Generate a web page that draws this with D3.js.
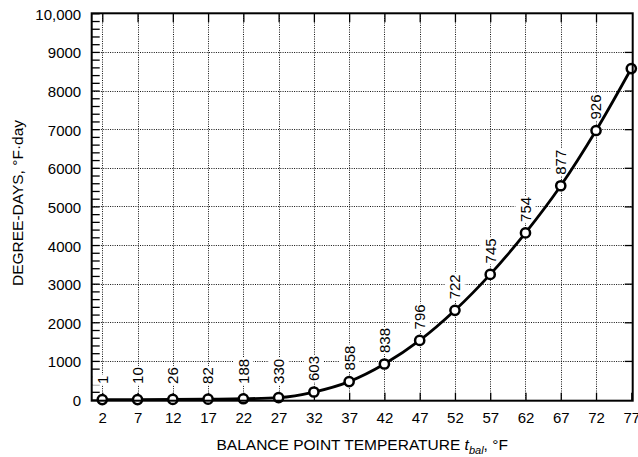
<!DOCTYPE html>
<html>
<head>
<meta charset="utf-8">
<script src="https://cdn.jsdelivr.net/npm/d3@7"></script>
<style>
  body { margin: 0; background: #fff; }
  svg text { font-family: "Liberation Sans", Arial, Helvetica, sans-serif; fill: #000; }
</style>
</head>
<body>
<svg id="chart" width="638" height="457"></svg>
<script>
// Balance point temperatures (°F)
const balanceTemps = [2, 7, 12, 17, 22, 27, 32, 37, 42, 47, 52, 57, 62, 67, 72, 77];
// Cumulative heating degree-days at each balance point (°F·day)
const degreeDays = [0, 0, 2, 10, 20, 50, 195, 465, 920, 1530, 2310, 3240, 4315, 5535, 6965, 8570];
// Hours in each 5 °F temperature bin, written beside the curve
const binHours = [1, 10, 26, 82, 188, 330, 603, 858, 838, 796, 722, 745, 754, 877, 926];
// Axis ticks
const yMajorTicks = [0, 1000, 2000, 3000, 4000, 5000, 6000, 7000, 8000, 9000, 10000];
const yTickLabels = ["0", "1000", "2000", "3000", "4000", "5000", "6000", "7000", "8000", "9000", "10,000"];
const yMinorTicks = d3.range(200, 10000, 200).filter(v => v % 1000 !== 0);
const xTicks = balanceTemps;

const svg = d3.select("#chart");
const box = { left: 91.7, right: 632.7, top: 13.3, bottom: 400.7 };

const x = d3.scaleLinear().domain([0.5, 77.2]).range([box.left, box.right]);
const y = d3.scaleLinear().domain([-30, 10000]).range([box.bottom, box.top]);

// Dotted grid
const grid = svg.append("g").attr("stroke", "#111").attr("stroke-width", 1)
  .attr("stroke-dasharray", "1,1.3");
grid.selectAll("line.h").data(yMajorTicks.filter(v => v > 0 && v < 10000)).join("line")
  .attr("class", "h")
  .attr("x1", box.left).attr("x2", box.right)
  .attr("y1", d => Math.round(y(d)) + 0.5).attr("y2", d => Math.round(y(d)) + 0.5);
grid.selectAll("line.v").data(xTicks.filter(v => v < 77)).join("line")
  .attr("class", "v")
  .attr("y1", box.top).attr("y2", box.bottom)
  .attr("x1", d => Math.round(x(d)) + 0.5).attr("x2", d => Math.round(x(d)) + 0.5);

// Inward tick marks on all four sides
function styleAxis(g) {
  g.select(".domain").remove();
  g.selectAll(".tick line").attr("stroke", "#000").attr("stroke-width", 1.3);
  g.selectAll(".tick text").attr("font-size", 15).attr("font-family", null);
}
svg.append("g").attr("transform", `translate(${box.left},0)`)
  .call(d3.axisLeft(y).tickValues(yMinorTicks).tickSize(-8).tickFormat(""))
  .call(styleAxis);
svg.append("g").attr("transform", `translate(${box.left},0)`)
  .call(d3.axisLeft(y).tickValues(yMajorTicks).tickSize(-8).tickPadding(10.5)
    .tickFormat((d, i) => yTickLabels[i]))
  .call(styleAxis)
  .call(g => g.selectAll(".tick text").attr("dy", "0.4em"));
svg.append("g").attr("transform", `translate(${box.right},0)`)
  .call(d3.axisRight(y).tickValues(yMajorTicks.filter(v => v > 0 && v < 10000)).tickSize(-8).tickFormat(""))
  .call(styleAxis);
svg.append("g").attr("transform", `translate(0,${box.bottom})`)
  .call(d3.axisBottom(x).tickValues(xTicks).tickSize(-8).tickPadding(11.7))
  .call(styleAxis);
svg.append("g").attr("transform", `translate(0,${box.top})`)
  .call(d3.axisTop(x).tickValues(xTicks.filter(v => v < 77)).tickSize(-9).tickFormat(""))
  .call(styleAxis);

// Bin-hour labels, rotated, with a white backing that breaks the grid
const labelFloor = 120;
const labels = svg.append("g");
binHours.forEach((h, i) => {
  const px = x(balanceTemps[i]);
  const py = Math.min(y(degreeDays[i]), y(labelFloor)) - 11;
  const g = labels.append("g").attr("transform", `translate(${px},${py}) rotate(-90)`);
  const rect = g.append("rect").attr("fill", "#fff");
  const t = g.append("text").attr("font-size", 15).attr("text-anchor", "start")
    .attr("dy", "0.36em").text(h);
  const bb = t.node().getBBox();
  rect.attr("x", bb.x - 1).attr("y", bb.y - 1.5).attr("width", bb.width + 2).attr("height", bb.height + 3);
});

// Degree-day curve with open circle markers
const pts = balanceTemps.map((t, i) => [t, degreeDays[i]]);
svg.append("path").datum(pts)
  .attr("fill", "none").attr("stroke", "#000").attr("stroke-width", 2.8)
  .attr("d", d3.line().x(d => x(d[0])).y(d => y(d[1])).curve(d3.curveMonotoneX));
svg.append("g").selectAll("circle").data(pts).join("circle")
  .attr("cx", d => x(d[0])).attr("cy", d => y(d[1])).attr("r", 4.6)
  .attr("fill", "#fff").attr("stroke", "#000").attr("stroke-width", 2.5);

// Frame
svg.append("rect")
  .attr("x", box.left).attr("y", box.top)
  .attr("width", box.right - box.left).attr("height", box.bottom - box.top)
  .attr("fill", "none").attr("stroke", "#000").attr("stroke-width", 2);

// Axis titles
const xTitle = svg.append("text").attr("x", (box.left + box.right) / 2).attr("y", 450)
  .attr("text-anchor", "middle").attr("font-size", 15.5);
xTitle.append("tspan").text("BALANCE POINT TEMPERATURE ");
xTitle.append("tspan").attr("font-style", "italic").text("t");
xTitle.append("tspan").attr("font-style", "italic").attr("font-size", 11).attr("dy", 4).text("bal");
xTitle.append("tspan").attr("dy", -4).text(", °F");

svg.append("text").attr("transform", "translate(23,203) rotate(-90)")
  .attr("text-anchor", "middle").attr("font-size", 15.5)
  .text("DEGREE-DAYS, °F·day");
</script>
</body>
</html>
